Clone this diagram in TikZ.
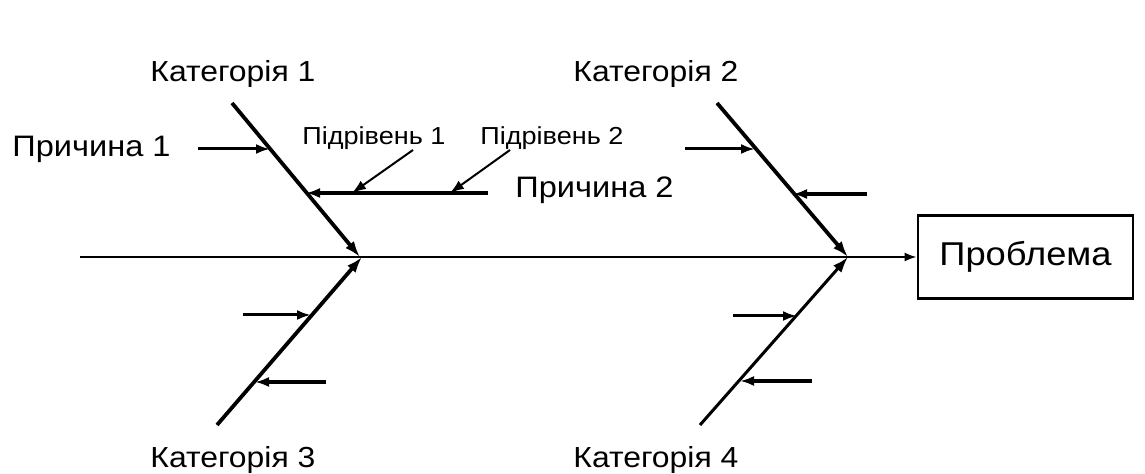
\documentclass[tikz,border=0pt]{standalone}
\usepackage{fontspec}
\setmainfont[FakeStretch=1.1]{Liberation Sans}
\usetikzlibrary{arrows.meta, positioning, calc}

\begin{document}
\begin{tikzpicture}[x=0.5pt, y=-0.5pt,
  spine/.style={line width=1pt, -{Latex[length=6pt,width=4.5pt]}},
  bone/.style={line width=1.9pt, -{Latex[length=8pt,width=5.5pt]}},
  cause/.style={line width=1.5pt, -{Latex[length=7pt,width=5pt]}},
  sublevel/.style={line width=1pt, -{Latex[length=7pt,width=5pt]}},
  catlabel/.style={anchor=base west, inner sep=0pt, font=\fontsize{14.5}{16}\selectfont},
  causelabel/.style={anchor=base west, inner sep=0pt, font=\fontsize{14.8}{16}\selectfont},
  sublabel/.style={anchor=base west, inner sep=0pt, font=\fontsize{12.3}{14}\selectfont}]
\useasboundingbox (0,0) rectangle (1145,474);

% Head
\node[draw, line width=1.4pt, minimum width=107.5pt, minimum height=41.5pt,
  font=\fontsize{16.5}{18}\selectfont] (problem) at (1025.5,257) {Проблема};
\coordinate (tail) at (80,257);
\draw[spine] (tail) -- (problem.west);

% Bones
\coordinate (c1top) at (232,103);
\coordinate (c1end) at (360,257);
\coordinate (c2top) at (717,103);
\coordinate (c2end) at (848,257);
\coordinate (c3bot) at (217,425);
\coordinate (c3end) at (362,257);
\coordinate (c4bot) at (700,425);
\coordinate (c4end) at (848,257);
\draw[bone] (c1top) -- (c1end);
\draw[bone] (c2top) -- (c2end);
\draw[bone] (c3bot) -- (c3end);
\draw[bone, line width=1.5pt] (c4bot) -- (c4end);

\node[catlabel] (cat1) at (150,82) {Категорія 1};
\node[catlabel] (cat2) at (573,82) {Категорія 2};
\node[catlabel] (cat3) at (150,468) {Категорія 3};
\node[catlabel] (cat4) at (573,468) {Категорія 4};

% Category 1
\node[causelabel] (cause1) at (12,157) {Причина 1};
\coordinate (a1s) at (198,149);
\coordinate (a1e) at (270,149);
\draw[cause] (a1s) -- (a1e);
\coordinate (a2s) at (488,193);
\coordinate (a2e) at (306,193);
\draw[cause, line width=2pt] (a2s) -- (a2e);
\node[causelabel] (cause2) at (515,198) {Причина 2};
\node[sublabel] (sub1) at (302,145) {Підрівень 1};
\node[sublabel] (sub2) at (480,145) {Підрівень 2};
\coordinate (s1s) at (413,150);
\coordinate (s1e) at (352,193);
\coordinate (s2s) at (510,150);
\coordinate (s2e) at (450,193);
\draw[sublevel] (s1s) -- (s1e);
\draw[sublevel] (s2s) -- (s2e);

% Category 2
\coordinate (b1s) at (685,149);
\coordinate (b1e) at (755,149);
\coordinate (b2s) at (867,194);
\coordinate (b2e) at (793,194);
\draw[cause] (b1s) -- (b1e);
\draw[cause, line width=2pt] (b2s) -- (b2e);

% Category 3
\coordinate (d1s) at (243,315);
\coordinate (d1e) at (311,315);
\coordinate (d2s) at (326,382);
\coordinate (d2e) at (255,382);
\draw[cause] (d1s) -- (d1e);
\draw[cause, line width=2pt] (d2s) -- (d2e);

% Category 4
\coordinate (e1s) at (733,316);
\coordinate (e1e) at (797,316);
\coordinate (e2s) at (812,381);
\coordinate (e2e) at (740,381);
\draw[cause] (e1s) -- (e1e);
\draw[cause, line width=2pt] (e2s) -- (e2e);
\end{tikzpicture}
\end{document}
